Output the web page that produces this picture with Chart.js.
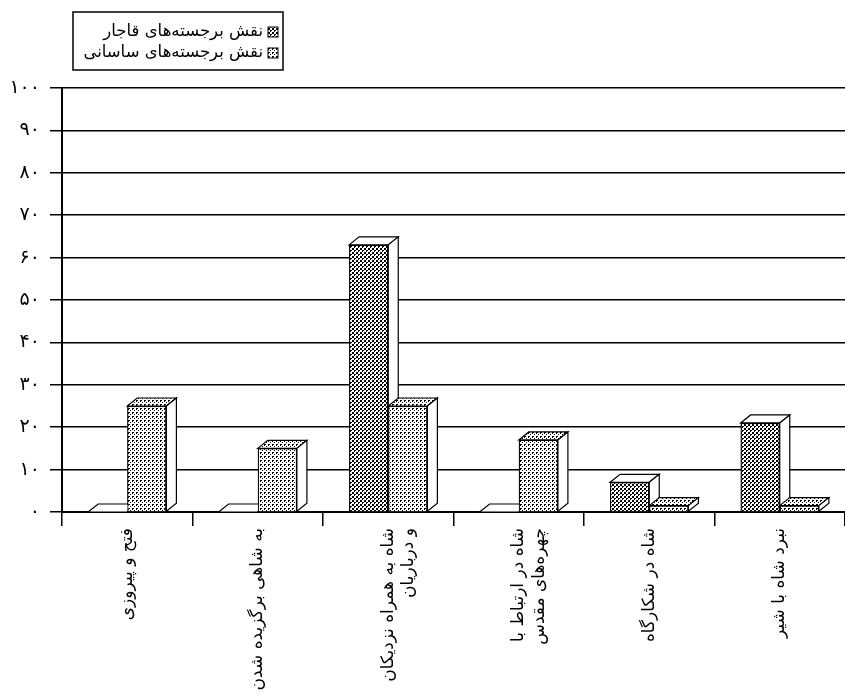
<!DOCTYPE html>
<html>
<head>
<meta charset="utf-8">
<script src="https://cdn.jsdelivr.net/npm/chart.js@4.4.1/dist/chart.umd.min.js"></script>
<style>
  html, body { margin: 0; padding: 0; background: #fff; }
  #wrap { width: 845px; height: 697px; position: relative; }
</style>
</head>
<body>
<div id="wrap"><canvas id="c" width="845" height="697"></canvas></div>
<script>
// ---- data ----
const categories = [
  'فتح و پیروزی',
  'به شاهی برگزیده شدن',
  ['شاه به همراه نزدیکان', 'و درباریان'],
  ['شاه در ارتباط با', 'چهره‌های مقدس'],
  'شاه در شکارگاه',
  'نبرد شاه با شیر'
];
const seriesNames = ['نقش برجسته‌های قاجار', 'نقش برجسته‌های ساسانی'];
const qajarValues = [0, 0, 63, 0, 7, 21];
const sasaniValues = [25, 15, 25, 17, 1.5, 1.5];
const yTickLabels = ['۰', '۱۰', '۲۰', '۳۰', '۴۰', '۵۰', '۶۰', '۷۰', '۸۰', '۹۰', '۱۰۰'];

// ---- patterns ----
function makePattern(cells, size) {
  const c = document.createElement('canvas');
  c.width = size; c.height = size;
  const x = c.getContext('2d');
  x.fillStyle = '#fff';
  x.fillRect(0, 0, size, size);
  x.fillStyle = '#000';
  cells.forEach(([px, py, w, h]) => x.fillRect(px, py, w, h));
  return x.createPattern(c, 'repeat');
}
const qajarPattern = makePattern([[0, 0, 2, 2], [2, 2, 2, 1], [2, 3, 1, 1]], 4);
const sasaniPattern = makePattern([[0, 0, 2, 1], [0, 1, 1, 1], [2, 2, 1, 1]], 4);
const patterns = [qajarPattern, sasaniPattern];
const FONT = "'DejaVu Sans', sans-serif";

// ---- 3D bar effect: redraw bars in left-to-right order with top & side faces ----
const bar3d = {
  id: 'bar3d',
  afterDatasetsDraw(chart) {
    const ctx = chart.ctx;
    const dx = 10, dy = 8;
    const metas = chart.data.datasets.map((d, i) => chart.getDatasetMeta(i));
    const n = chart.data.labels.length;
    ctx.save();
    for (let j = 0; j < n; j++) {
      metas.forEach((meta, i) => {
        const el = meta.data[j];
        if (!el) return;
        el.draw(ctx, chart.chartArea);
        const p = el.getProps(['x', 'y', 'base', 'width'], true);
        const left = p.x - p.width / 2, right = p.x + p.width / 2;
        const top = Math.min(p.y, p.base), bottom = Math.max(p.y, p.base);
        ctx.lineWidth = 1.2;
        ctx.strokeStyle = '#000';
        // top face
        ctx.beginPath();
        ctx.moveTo(left, top);
        ctx.lineTo(left + dx, top - dy);
        ctx.lineTo(right + dx, top - dy);
        ctx.lineTo(right, top);
        ctx.closePath();
        ctx.fillStyle = i === 1 ? patterns[1] : '#fff';
        ctx.fill();
        ctx.stroke();
        // side face
        ctx.beginPath();
        ctx.moveTo(right, top);
        ctx.lineTo(right + dx, top - dy);
        ctx.lineTo(right + dx, bottom - dy);
        ctx.lineTo(right, bottom);
        ctx.closePath();
        ctx.fillStyle = '#fff';
        ctx.fill();
        ctx.stroke();
      });
    }
    ctx.restore();
  }
};

// ---- boxed RTL legend, stacked vertically ----
const boxedLegend = {
  id: 'boxedLegend',
  afterDraw(chart) {
    const ctx = chart.ctx;
    const bx = 73, by = 12, bw = 210, bh = 58;
    ctx.save();
    ctx.fillStyle = '#fff';
    ctx.fillRect(bx, by, bw, bh);
    ctx.lineWidth = 1.5;
    ctx.strokeStyle = '#000';
    ctx.strokeRect(bx, by, bw, bh);
    ctx.font = '16.5px ' + FONT;
    ctx.textAlign = 'right';
    ctx.textBaseline = 'middle';
    chart.data.datasets.forEach((ds, i) => {
      const cy = by + 20 + i * 21;
      const sx = bx + bw - 15, s = 10;
      ctx.fillStyle = patterns[i];
      ctx.fillRect(sx, cy - s / 2, s, s);
      ctx.lineWidth = 1;
      ctx.strokeRect(sx, cy - s / 2, s, s);
      ctx.fillStyle = '#000';
      ctx.fillText(ds.label, sx - 5, cy);
    });
    ctx.restore();
  }
};

new Chart(document.getElementById('c'), {
  type: 'bar',
  data: {
    labels: categories,
    datasets: [
      { label: seriesNames[0], data: qajarValues, backgroundColor: qajarPattern, borderColor: '#000', borderWidth: 1.2 },
      { label: seriesNames[1], data: sasaniValues, backgroundColor: sasaniPattern, borderColor: '#000', borderWidth: 1.2 }
    ]
  },
  options: {
    responsive: false,
    animation: false,
    devicePixelRatio: 1,
    layout: { padding: { top: 88, left: 0, right: 0, bottom: 0 } },
    datasets: { bar: { categoryPercentage: 0.6, barPercentage: 1.0 } },
    plugins: {
      legend: { display: false },
      tooltip: { enabled: false }
    },
    scales: {
      x: {
        offset: true,
        grid: { display: true, drawOnChartArea: false, drawTicks: true, tickLength: 14, color: '#000', lineWidth: 1.5, offset: true },
        border: { display: true, color: '#000', width: 2 },
        ticks: {
          autoSkip: false, maxRotation: 90, minRotation: 90, padding: 2,
          color: '#000', font: { family: FONT, size: 17 }
        },
        afterFit(scale) { scale.height = 185; }
      },
      y: {
        min: 0, max: 100,
        grid: { color: '#000', lineWidth: 1.5, tickLength: 12, drawTicks: true },
        border: { display: true, color: '#000', width: 2 },
        ticks: {
          stepSize: 10, padding: 10, color: '#000',
          font: { family: FONT, size: 19 },
          callback: (v) => yTickLabels[Math.round(v / 10)]
        },
        afterFit(scale) { scale.width = 62; }
      }
    }
  },
  plugins: [bar3d, boxedLegend]
});
</script>
</body>
</html>
